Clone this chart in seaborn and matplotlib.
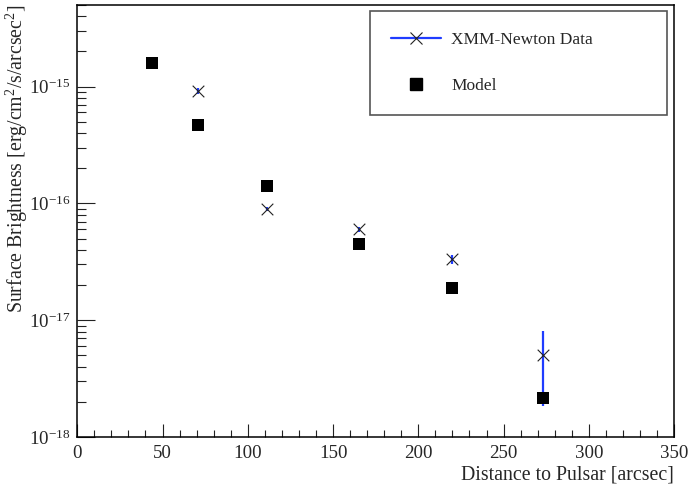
import numpy as np
import pandas as pd
import matplotlib
matplotlib.use("Agg")
import matplotlib.pyplot as plt
import seaborn as sns
from matplotlib.lines import Line2D
from matplotlib.ticker import (LogLocator, MultipleLocator, FixedLocator,
                               FuncFormatter, NullFormatter)

# Measured surface brightness profile (XMM-Newton) with 1-sigma errors
distance_data = [70.8, 111.4, 165.3, 219.5, 273.1]
brightness_data = [9.2e-16, 9.0e-17, 6.0e-17, 3.32e-17, 5.0e-18]
brightness_err = [5.0e-17, 3.6e-18, 2.6e-18, 2.7e-18, 3.15e-18]

# Model prediction
distance_model = [43.6, 70.8, 111.4, 165.3, 219.5, 273.1]
brightness_model = [1.6e-15, 4.65e-16, 1.42e-16, 4.47e-17, 1.89e-17, 2.16e-18]

y_decades = [1e-18, 1e-17, 1e-16, 1e-15]
legend_labels = ["XMM-Newton Data", "Model"]
x_title = "Distance to Pulsar [arcsec]"
y_title = "Surface Brightness [erg/cm$^2$/s/arcsec$^2$]"

sns.set_theme(style="white")
plt.rcParams["font.family"] = ["Liberation Serif", "DejaVu Serif"]
plt.rcParams["mathtext.fontset"] = "custom"
plt.rcParams["mathtext.rm"] = "Liberation Serif"
plt.rcParams["mathtext.it"] = "Liberation Serif:italic"
plt.rcParams["mathtext.bf"] = "Liberation Serif:bold"

BLUE = "#1f3cff"
TICK_FS = 13.6
TITLE_FS = 14.3
LEG_FS = 12.5

df_data = pd.DataFrame({"distance": distance_data, "brightness": brightness_data,
                        "err": brightness_err})
df_model = pd.DataFrame({"distance": distance_model, "brightness": brightness_model})

fig = plt.figure(figsize=(6.9, 4.9), dpi=100)
ax = fig.add_axes([0.112, 0.108, 0.865, 0.882])
ax.set_yscale("log")

# error bars of the measurement
ax.errorbar(df_data["distance"], df_data["brightness"], yerr=df_data["err"],
            fmt="none", ecolor=BLUE, elinewidth=1.6, capsize=0, zorder=2)
sns.scatterplot(data=df_data, x="distance", y="brightness", marker="x", s=70,
                color="#222222", linewidth=0.8, ax=ax, zorder=4, legend=False)
sns.scatterplot(data=df_model, x="distance", y="brightness", marker="s", s=68,
                color="black", edgecolor="black", linewidth=0, ax=ax, zorder=5,
                legend=False)

ax.set_xlim(0, 350)
ax.set_ylim(1e-18, 5.0e-15)

ax.xaxis.set_major_locator(MultipleLocator(50))
ax.xaxis.set_minor_locator(MultipleLocator(10))
ax.yaxis.set_major_locator(FixedLocator(y_decades))
ax.yaxis.set_minor_locator(LogLocator(base=10, subs=np.arange(2, 10), numticks=12))
ax.yaxis.set_major_formatter(FuncFormatter(lambda v, p: rf"$10^{{{int(round(np.log10(v)))}}}$"))
ax.yaxis.set_minor_formatter(NullFormatter())

ax.tick_params(which="both", direction="in", bottom=True, left=True,
               top=False, right=False, color="#222222", width=0.8,
               labelsize=TICK_FS)
ax.tick_params(axis="x", which="major", length=9.4, pad=5.5)
ax.tick_params(axis="x", which="minor", length=4.7)
ax.tick_params(axis="y", which="major", length=13, pad=5)
ax.tick_params(axis="y", which="minor", length=6.7)

for sp in ax.spines.values():
    sp.set_color("black")
    sp.set_linewidth(1.1)

ax.set_xlabel(x_title, fontsize=TITLE_FS, loc="right", labelpad=3)
ax.set_ylabel(y_title, fontsize=TITLE_FS, loc="top")
ax.yaxis.set_label_coords(-0.079, 1.0)

handles = [
    Line2D([], [], color=BLUE, lw=1.6, marker="x", markersize=8.4,
           markeredgecolor="#222222", markeredgewidth=0.8),
    Line2D([], [], linestyle="none", marker="s", markersize=8.2, color="black"),
]
leg = ax.legend(handles, legend_labels, loc="upper left",
                bbox_to_anchor=(0.49, 0.748, 0.498, 0.238), mode="expand",
                borderaxespad=0, fontsize=LEG_FS, frameon=True, fancybox=False,
                framealpha=1, edgecolor="#555555", borderpad=1.2,
                labelspacing=1.75, handlelength=2.9, handletextpad=0.6,
                numpoints=1)
leg.get_frame().set_linewidth(1.2)

fig.savefig("out.png", dpi=100, facecolor="white")
